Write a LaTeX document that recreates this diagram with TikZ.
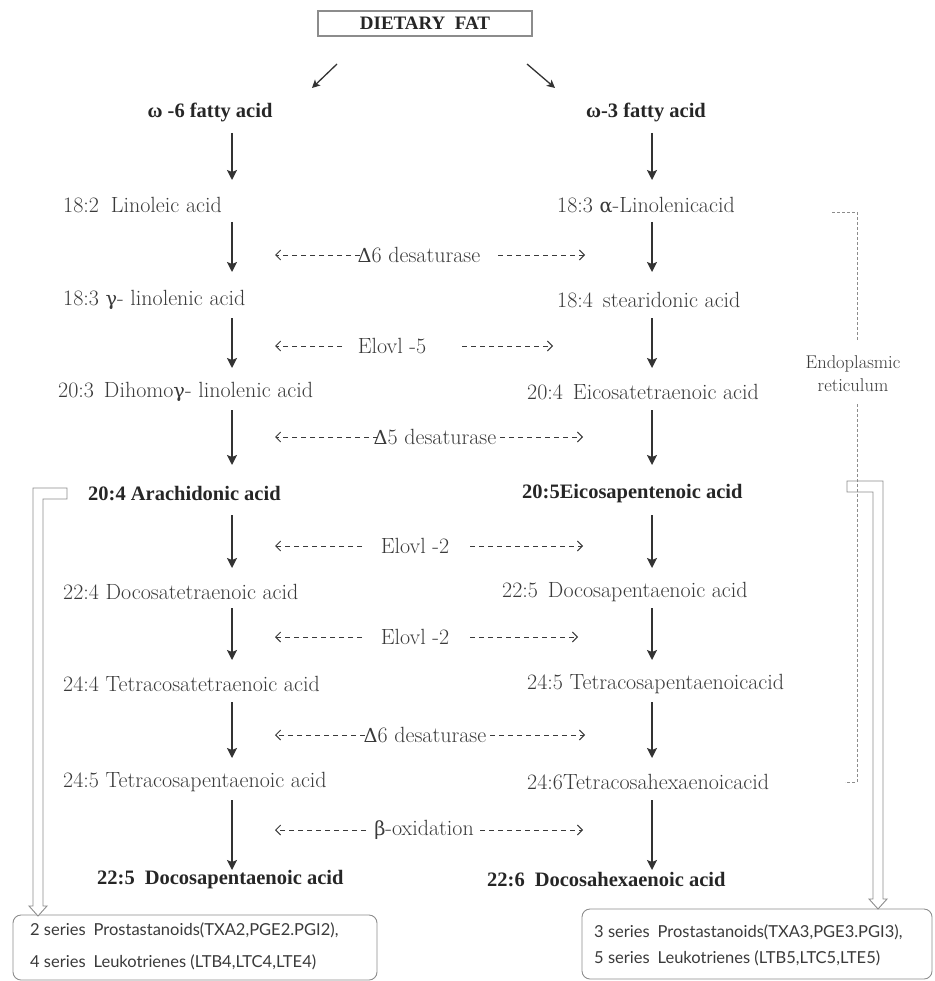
\documentclass[tikz,border=0pt]{standalone}
\usepackage{fontspec}
\newfontfamily\rg{Liberation Serif}
\newfontfamily\gkf{DejaVu Serif}[Scale=0.88]
\newfontfamily\boxfont{Lato}
\newcommand\grk[1]{{\gkf #1}}
\usetikzlibrary{arrows.meta}
\definecolor{txt}{HTML}{3A3A3A}
\definecolor{btxt}{HTML}{262626}
\definecolor{arr}{HTML}{333333}
\definecolor{lgray}{HTML}{8C8C8C}
\begin{document}
\begin{tikzpicture}[x=1pt,y=-1pt,
  lab/.style={anchor=west, text=txt, font=\rmfamily\fontsize{22}{26}\selectfont, inner sep=0pt},
  blab/.style={anchor=west, text=btxt, font=\rg\bfseries\fontsize{20.5}{24}\selectfont, inner sep=0pt},
  enz/.style={text=txt, font=\rmfamily\fontsize{22}{26}\selectfont, inner sep=0pt},
  down/.style={draw=arr, line width=1.5pt, -{Stealth[length=10pt,width=10pt,inset=2pt]}},
  diag/.style={draw=arr, line width=1.3pt, -{Stealth[length=8pt,width=8pt,inset=2pt]}},
  dasharr/.style={draw=txt, line width=0.9pt, dash pattern=on 5pt off 4pt, -{Straight Barb[length=5pt,width=10pt]}},
  bracket/.style={draw=lgray, line width=0.9pt, dash pattern=on 3pt off 2pt},
  hollow/.style={draw=lgray, line width=0.9pt},
  sbox/.style={draw=lgray, line width=0.9pt, rounded corners=8pt},
  stxt/.style={anchor=west, text=txt, font=\boxfont\fontsize{16.5}{20}\selectfont, inner sep=0pt}
]
\useasboundingbox (0,0) rectangle (934,981);

% top
\node[draw=lgray, line width=1.3pt, minimum width=214pt, minimum height=25pt, inner sep=0pt,
      text=btxt, font=\rg\bfseries\fontsize{19}{22}\selectfont] (fat) at (425,23.5) {DIETARY\ \ FAT};
\coordinate (dl1) at (337,64); \coordinate (dl2) at (312,88);
\coordinate (dr1) at (527,64); \coordinate (dr2) at (555,88);
\draw[diag] (dl1) -- (dl2);
\draw[diag] (dr1) -- (dr2);

% left column
\node[blab, anchor=center] (L0) at (210,112) {ω -6 fatty acid};
\node[lab] (L1) at (63,205) {18:2\hspace{12pt}Linoleic acid};
\node[lab] (L2) at (63,300) {18:3 \grk{γ}- linolenic acid};
\node[lab] (L3) at (58,392) {20:3\hspace{10pt}Dihomo\grk{γ}- linolenic acid};
\node[blab] (L4) at (88,494) {20:4 Arachidonic acid};
\node[lab] (L5) at (63,592) {22:4 Docosatetraenoic acid};
\node[lab] (L6) at (63,684) {24:4 Tetracosatetraenoic acid};
\node[lab] (L7) at (63,782) {24:5 Tetracosapentaenoic acid};
\node[blab] (L8) at (97,880) {22:5\hspace{10pt}Docosapentaenoic acid};

% right column
\node[blab, anchor=center] (R0) at (646,112) {ω-3 fatty acid};
\node[lab] (R1) at (557,205) {18:3 \grk{α}-Linolenicacid};
\node[lab] (R2) at (557,300) {18:4\hspace{10pt}stearidonic acid};
\node[lab] (R3) at (527,392) {20:4\hspace{10pt}Eicosatetraenoic acid};
\node[blab] (R4) at (522,494) {20:5Eicosapentenoic acid};
\node[lab] (R5) at (502,592) {22:5\hspace{10pt}Docosapentaenoic acid};
\node[lab] (R6) at (527,684) {24:5 Tetracosapentaenoicacid};
\node[lab] (R7) at (527,782) {24:6Tetracosahexaenoicacid};
\node[blab] (R8) at (487,880) {22:6\hspace{10pt}Docosahexaenoic acid};

% vertical arrows
\foreach \i/\a/\b in {1/133/180, 2/222/272, 3/318/368, 4/410/465, 5/515/568, 6/608/660, 7/702/758, 8/800/870}{
  \coordinate (la\i) at (232,\a); \coordinate (lb\i) at (232,\b);
  \coordinate (ra\i) at (652,\a); \coordinate (rb\i) at (652,\b);
  \draw[down] (la\i) -- (lb\i);
  \draw[down] (ra\i) -- (rb\i);
}

% enzyme rows
\foreach \i/\y/\c/\t/\p/\q/\r in {
  1/255/419/{\grk{Δ}6 desaturase}/360/498/585,
  2/346/392/{Elovl -5}/342/462/553,
  3/437/435/{\grk{Δ}5 desaturase}/378/500/583,
  4/546/415/{Elovl -2}/362/470/583,
  5/637/415/{Elovl -2}/362/470/578,
  6/735/425/{\grk{Δ}6 desaturase}/365/490/585,
  7/830/424/{\grk{β}-oxidation}/366/480/583}{
  \node[enz] (E\i) at (\c,\y) {\t};
  \coordinate (El\i) at (275,\y); \coordinate (Ea\i) at (\p,\y);
  \coordinate (Eb\i) at (\q,\y); \coordinate (Er\i) at (\r,\y);
  \draw[dasharr] (Ea\i) -- (El\i);
  \draw[dasharr] (Eb\i) -- (Er\i);
}

% bottom boxes
\draw[sbox] (13,915) rectangle (377,980);
\node[stxt] (B1) at (30,930) {2 series\hspace{8pt}Prostastanoids(TXA2,PGE2.PGI2),};
\node[stxt] (B2) at (30,962) {4 series\hspace{8pt}Leukotrienes (LTB4,LTC4,LTE4)};
\draw[sbox] (582,909) rectangle (932,979);
\node[stxt] (B3) at (594,932) {3 series\hspace{8pt}Prostastanoids(TXA3,PGE3.PGI3),};
\node[stxt] (B4) at (594,958) {5 series\hspace{8pt}Leukotrienes (LTB5,LTC5,LTE5)};

% hollow bent arrows
\draw[hollow, fill=white] (67,488) -- (33,488) -- (33,906) -- (29,906) -- (38,916) -- (47,906) -- (43,906) -- (43,499) -- (67,499) -- cycle;
\draw[hollow] (847,481) -- (883,481) -- (883,899) -- (887,899) -- (878,909) -- (869,899) -- (873,899) -- (873,492) -- (847,492) -- cycle;

% endoplasmic reticulum bracket
\node[text=txt, font=\rmfamily\fontsize{18.5}{23}\selectfont, align=center, inner sep=0pt] (ER) at (853,374) {Endoplasmic\\reticulum};
\coordinate (k1) at (832,212); \coordinate (k2) at (857,212); \coordinate (k3) at (857,340);
\coordinate (k4) at (857,404); \coordinate (k5) at (857,782); \coordinate (k6) at (845,782);
\draw[bracket] (k1) -- (k2) -- (k3);
\draw[bracket] (k4) -- (k5) -- (k6);
\end{tikzpicture}
\end{document}
